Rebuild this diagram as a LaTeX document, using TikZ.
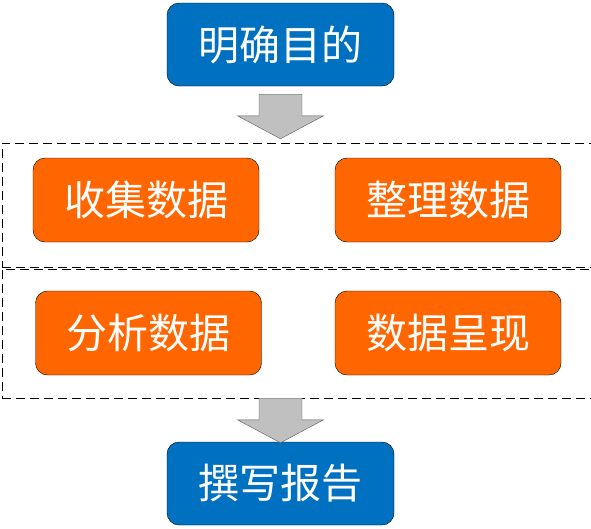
\documentclass[tikz,border=0pt]{standalone}
\usepackage{fontspec}
\newfontfamily\cjk{Noto Sans CJK SC}
\usetikzlibrary{positioning,calc}
\definecolor{goal-blue}{RGB}{0,112,192}
\definecolor{step-orange}{RGB}{255,102,0}
\definecolor{arrow-grey}{RGB}{192,192,192}
\newcommand\blockarrow[2]{%
  \draw[blockarrow] ($(#1)+(-21.5,0)$) -- ($(#1)+(21.5,0)$) -- ($(#2)+(21.5,-23)$)
    -- ($(#2)+(43,-23)$) -- (#2) -- ($(#2)+(-43,-23)$) -- ($(#2)+(-21.5,-23)$) -- cycle;}

\begin{document}
\begin{tikzpicture}[x=1pt, y=-1pt, font=\cjk\fontsize{41}{43}\selectfont,
    bluebox/.style={draw=black, fill=goal-blue, text=white, rounded corners=12pt,
      minimum width=227pt, minimum height=83pt, inner sep=0pt},
    orangebox/.style={draw=black, fill=step-orange, text=white, rounded corners=12pt,
      minimum width=226pt, minimum height=84pt, inner sep=0pt},
    stage/.style={draw=black, dash pattern=on 9pt off 5pt, minimum width=593pt, inner sep=0pt},
    blockarrow/.style={draw=black!65, fill=arrow-grey}]
	  \useasboundingbox (0,0) rectangle (591,528);
	  \node[bluebox] (goal) at (280.5,44.5) {明确目的};
	  \node[stage, minimum height=124pt] (frameA) at (298.5,205) {};
	  \node[stage, minimum height=129pt] (frameB) at (298.5,333.5) {};
	  \node[orangebox] (collect) at (146,200) {收集数据};
	  \node[orangebox] (sort) at (448,200) {整理数据};
	  \node[orangebox] (analyse) at (148.5,333) {分析数据};
	  \node[orangebox] (present) at (448,333) {数据呈现};
	  \node[bluebox] (report) at (280.5,483.5) {撰写报告};
	  % block arrows between the stages
	  \coordinate (a1top) at ($(goal.south)+(0,8)$);
	  \coordinate (a1tip) at ($(goal.south |- frameA.north)+(0,-4)$);
	  \coordinate (a2top) at (goal.south |- frameB.south);
	  \coordinate (a2tip) at ($(report.north)+(0,1)$);
	  \blockarrow{a1top}{a1tip}
	  \blockarrow{a2top}{a2tip}
	\end{tikzpicture}
\end{document}
